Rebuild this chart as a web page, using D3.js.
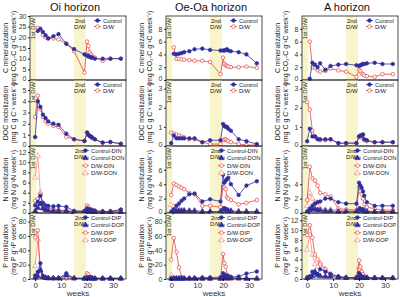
<!DOCTYPE html>
<html>
<head>
<meta charset="utf-8">
<script src="https://cdn.jsdelivr.net/npm/d3@7"></script>
<style>
  body { margin: 0; background: #fff; }
  svg { font-family: "Liberation Sans", Arial, sans-serif; }
</style>
</head>
<body>
<svg id="chart" width="400" height="297"></svg>
<script>
// sampling weeks (shared by every panel)
const weeks = [0, 1, 2, 3, 4, 5, 7, 9, 12, 15, 19, 20, 20.5, 21, 21.5, 22, 23, 26, 29, 33];
const horizons = ["Oi horizon", "Oe-Oa horizon", "A horizon"];
const bands = [[-2, 0.4], [15, 19.5]];
const xTicks = [0, 10, 20, 30];

// C mineralization
const cOiCtrl = [null, 23, 24, 22.5, 21, 19.5, 20.5, 21.5, 17, 14.5, 12, 11.5, 11, 11, 10.5, 10.5, 10, 10, 10, 10];
const cOiDW   = [null, 24.5, 23.5, 21, 20, 19.5, 19.5, 19, 17, 13.5, 3.5, 18, 16, 13, 12, 11, 10.5, 9, 10, 10];
const cOeCtrl = [null, 4.1, 4.0, 4.1, 4.2, 4.35, 4.5, 4.8, 4.9, 4.7, 4.6, 4.6, 4.6, 4.7, 4.8, 4.6, 4.5, 4.35, 4.0, 2.6];
const cOeDW   = [null, 5.1, 3.3, 3.3, 3.2, 3.2, 3.1, 3.0, 3.0, 2.8, 0.9, 3.5, 2.5, 2.3, 2.2, 2.1, 2.0, 2.0, 2.1, 1.9];
const cACtrl  = [null, 0.2, 2.7, 2.4, 2.0, 2.6, 1.6, 2.2, 2.4, 2.5, 2.3, 2.2, 2.3, 2.4, 2.5, 2.5, 2.6, 2.7, 2.5, 2.5];
const cADW    = [null, 6.0, 2.0, 1.9, 1.5, 1.3, 1.4, 1.8, 1.5, 1.3, 0.5, 1.6, 1.4, 1.0, 0.9, 0.7, 0.6, 0.5, 0.9, 0.9];

// DOC mobilization
const docOiCtrl = [0.8, 4.0, 3.5, 2.8, 2.5, 2.2, 2.0, 1.9, 1.1, 0.6, 0.45, 1.2, 1.0, 0.9, 0.85, 0.75, 0.6, 0.3, 0.35, 0.2];
const docOiDW   = [2.6, 4.5, 3.3, 2.6, 2.2, 2.0, 1.8, 1.7, 0.8, 0.6, 0.45, 1.2, 1.0, 0.9, 0.8, 0.7, 0.6, 0.3, 0.35, 0.2];
const docOeCtrl = [0.15, 0.55, 0.4, 0.4, 0.4, 0.4, 0.4, 0.4, 0.2, 0.3, 0.3, 1.15, 1.05, 1.0, 1.0, 0.9, 0.8, 0.35, 0.25, 0.1];
const docOeDW   = [0.7, 0.65, 0.6, 0.55, 0.5, 0.45, 0.35, 0.35, 0.2, 0.1, 0.1, 0.3, 0.35, 0.35, 0.3, 0.25, 0.2, 0.1, 0.05, 0.05];
const docACtrl  = [0.25, 0.9, 0.5, 0.5, 0.35, 0.35, 0.35, 0.35, 0.15, 0.15, 0.15, 0.5, 0.55, 0.55, 0.6, 0.35, 0.3, 0.2, 0.2, 0.2];
const docADW    = [2.3, 1.9, 0.8, 0.5, 0.4, 0.3, 0.3, 0.35, 0.15, 0.15, 0.15, 0.5, 0.45, 0.5, 0.6, 0.3, 0.25, 0.2, 0.2, 0.2];

// N mobilization
const nOiCDIN = [1.5, 2.2, 3.4, 2.0, 1.5, 1.4, 1.3, 1.4, 1.2, 0.4, 0.4, 0.9, 0.8, 0.6, 0.6, 0.5, 0.4, 0.3, 0.3, 0.7];
const nOiCDON = [0.4, 1.0, 1.8, 0.9, 0.6, 0.5, 0.4, 0.4, 0.4, 0.2, 0.2, 0.5, 0.4, 0.3, 0.3, 0.3, 0.2, 0.2, 0.2, 0.2];
const nOiDDIN = [2.4, 2.8, 3.8, 1.5, 1.2, 1.0, 0.8, 0.6, 0.5, 0.3, 0.3, 1.5, 1.2, 0.8, 0.7, 0.6, 0.5, 0.3, 0.3, 0.6];
const nOiDDON = [7.0, 11.3, 4.0, 1.2, 0.8, 0.6, 0.4, 0.3, 0.3, 0.2, 0.2, 1.0, 0.8, 0.6, 0.5, 0.4, 0.3, 0.2, 0.2, 0.3];
const nOeCDIN = [0.1, 0.5, 1.0, 1.3, 1.7, 2.0, 2.6, 2.7, 1.6, 1.9, 1.6, 5.3, 4.2, 4.5, 4.7, 4.9, 4.0, 2.5, 3.8, 4.4];
const nOeCDON = [0.1, 0.3, 0.3, 0.3, 0.3, 0.3, 0.3, 0.3, 0.2, 0.2, 0.2, 0.5, 0.5, 0.5, 0.4, 0.3, 0.3, 0.2, 0.2, 0.2];
const nOeDDIN = [2.5, 4.1, 3.9, 3.7, 3.5, 3.3, 2.8, 2.6, 1.0, 1.0, 0.8, 3.6, 3.5, 3.3, 2.2, 2.0, 1.8, 1.2, 1.4, 1.8];
const nOeDDON = [1.1, 0.9, 0.6, 0.5, 0.4, 0.4, 0.3, 0.3, 0.2, 0.2, 0.2, 0.6, 0.5, 0.4, 0.3, 0.3, 0.3, 0.2, 0.2, 0.2];
const nACDIN  = [0.2, 0.6, 1.0, 1.3, 1.5, 1.6, 2.0, 2.0, 1.5, 1.3, 1.3, 4.2, 3.8, 3.5, 3.0, 2.4, 1.5, 1.0, 1.0, 1.0];
const nACDON  = [0.1, 0.4, 0.5, 0.5, 0.4, 0.4, 0.3, 0.3, 0.2, 0.2, 0.2, 0.5, 0.5, 0.4, 0.4, 0.3, 0.2, 0.2, 0.2, 0.2];
const nADDIN  = [1.8, 6.4, 4.8, 4.5, 3.8, 2.8, 2.6, 2.3, 0.6, 0.5, 0.4, 3.6, 3.0, 2.6, 2.0, 1.2, 0.8, 0.6, 0.4, 0.4];
const nADDON  = [1.0, 2.8, 2.0, 1.5, 1.0, 0.7, 0.5, 0.5, 0.4, 0.3, 0.3, 0.6, 0.5, 0.4, 0.4, 0.3, 0.3, 0.2, 0.2, 0.2];

// P mobilization
const pOiCDIP = [5, 10, 22, 4, 2, 1.5, 1, 1, 8, 1, 1, 1.5, 2, 1.5, 1.5, 1, 1, 1, 1, 1];
const pOiCDOP = [2, 4, 12, 3, 1.5, 1, 1, 1, 5, 1, 0.5, 1, 1, 1, 1, 0.5, 0.5, 0.5, 0.5, 0.5];
const pOiDDIP = [58, 68, 12, 4, 2, 1.5, 1, 1, 1, 1, 1, 8, 6, 3, 2, 1.5, 1, 1, 1, 1];
const pOiDDOP = [18, 55, 10, 3, 2, 1, 1, 1, 1, 1, 1, 4, 3, 2, 1.5, 1, 1, 1, 1, 1];
const pOeCDIP = [0.5, 1, 1, 1, 1, 1, 1, 1.5, 2, 2, 2.5, 8, 6, 5, 4.5, 4, 3, 3.5, 7.5, 10.5];
const pOeCDOP = [0.5, 0.5, 0.5, 0.5, 0.5, 0.5, 0.5, 0.5, 0.5, 0.5, 0.5, 2, 1.5, 1.5, 1, 1, 1, 1, 0.5, 0.5];
const pOeDDIP = [27, 57, 38, 16, 3, 1, 0.5, 0.5, 0.5, 0.5, 0.5, 35, 22, 17, 6, 3, 2, 1, 1, 1];
const pOeDDOP = [5, 1.5, 1, 1, 0.5, 0.5, 0.5, 0.5, 0.5, 0.5, 0.5, 1, 1, 0.5, 0.5, 0.5, 0.5, 0.5, 0.5, 0.5];
const pACDIP  = [0.3, 0.5, 1.5, 1.2, 1.0, 2.0, 1.5, 1.0, 0.5, 0.3, 0.3, 1.2, 0.8, 0.5, 0.3, 0.3, 0.3, 0.2, 0.2, 0.2];
const pACDOP  = [0.2, 0.4, 0.6, 1.5, 0.8, 0.6, 0.5, 0.5, 0.3, 0.2, 0.2, 0.5, 0.4, 0.3, 0.2, 0.2, 0.2, 0.2, 0.2, 0.2];
const pADDIP  = [9, 11, 8.5, 5, 4, 3, 2, 1, 0.5, 0.3, 0.3, 3.8, 2.5, 1.5, 1, 0.5, 0.3, 0.3, 0.2, 0.2];
const pADDOP  = [6, 9, 5, 3, 2.5, 3.3, 2, 1, 0.4, 0.3, 0.3, 2.5, 2, 1.2, 0.8, 0.5, 0.3, 0.2, 0.2, 0.2];

const navy = "#2e2e9e";
const red = "#e2453f";
const pink = "#f08a84";
const bandColor = "#f7f3cb";

// series styles per row type (drawing order: D/W below, Control on top)
const styles2 = [
  { label: "D/W", color: red, shape: "circle", fill: false },
  { label: "Control", color: navy, shape: "circle", fill: true }
];
const stylesN = [
  { label: "D/W-DON", color: pink, shape: "triangle", fill: false },
  { label: "D/W-DIN", color: red, shape: "circle", fill: false },
  { label: "Control-DON", color: navy, shape: "triangle", fill: true },
  { label: "Control-DIN", color: navy, shape: "circle", fill: true }
];
const stylesP = stylesN.map(s => ({ ...s, label: s.label.replace("DON", "DOP").replace("DIN", "DIP") }));

const rows = [
  { label: ["C mineralization", "(mg CO₂-C g⁻¹C week⁻¹)"], styles: styles2,
    panels: [
      { domain: [0, 30], ticks: [0, 5, 10, 15, 20, 25, 30], series: [cOiDW, cOiCtrl] },
      { domain: [0, 10], ticks: [0, 2, 4, 6, 8], series: [cOeDW, cOeCtrl] },
      { domain: [0, 10], ticks: [0, 2, 4, 6, 8], series: [cADW, cACtrl] }
    ] },
  { label: ["DOC mobilization", "(mg C g C⁻¹ week⁻¹)"], styles: styles2,
    panels: [
      { domain: [0, 5.9], ticks: [0, 1, 2, 3, 4, 5], series: [docOiDW, docOiCtrl] },
      { domain: [0, 3.45], ticks: [0, 1, 2, 3], series: [docOeDW, docOeCtrl] },
      { domain: [0, 3.45], ticks: [0, 1, 2, 3], series: [docADW, docACtrl] }
    ] },
  { label: ["N mobilization", "(mg N g⁻¹N week⁻¹)"], styles: stylesN,
    panels: [
      { domain: [0, 13.2], ticks: [0, 2, 4, 6, 8, 10, 12], series: [nOiDDON, nOiDDIN, nOiCDON, nOiCDIN] },
      { domain: [0, 9.3], ticks: [0, 2, 4, 6], series: [nOeDDON, nOeDDIN, nOeCDON, nOeCDIN] },
      { domain: [0, 9.3], ticks: [0, 2, 4], series: [nADDON, nADDIN, nACDON, nACDIN] }
    ] },
  { label: ["P mobilization", "(mg P g⁻¹P week⁻¹)"], styles: stylesP,
    panels: [
      { domain: [0, 92], ticks: [0, 20, 40, 60, 80], series: [pOiDDOP, pOiDDIP, pOiCDOP, pOiCDIP] },
      { domain: [0, 92], ticks: [0, 20, 40, 60, 80], series: [pOeDDOP, pOeDDIP, pOeCDOP, pOeCDIP] },
      { domain: [0, 13.5], ticks: [0, 2, 4, 6, 8, 10, 12], series: [pADDOP, pADDIP, pACDOP, pACDIP] }
    ] }
];

const colLeft = [30, 166, 302];
const plotW = 96;
const rowTop = [16, 80, 146, 213];
const rowBottom = [80, 146, 213, 279];

const svg = d3.select("#chart");

horizons.forEach((h, c) => {
  svg.append("text")
    .attr("x", colLeft[c] + plotW / 2 - 3)
    .attr("y", 11)
    .attr("text-anchor", "middle")
    .attr("font-size", 11)
    .attr("fill", "#111")
    .text(h);
});

rows.forEach((row, r) => {
  const isN = row.styles.length === 4;
  row.panels.forEach((p, c) => {
    const x0 = colLeft[c];
    const x = d3.scaleLinear().domain([-2, 35]).range([x0, x0 + plotW]);
    const y = d3.scaleLinear().domain(p.domain).range([rowBottom[r], rowTop[r]]);
    const g = svg.append("g");

    // drying/wetting bands
    bands.forEach(b => {
      g.append("rect")
        .attr("x", x(b[0])).attr("y", rowTop[r])
        .attr("width", x(b[1]) - x(b[0]))
        .attr("height", rowBottom[r] - rowTop[r])
        .attr("fill", bandColor);
    });

    g.append("text")
      .attr("transform", `translate(${x((bands[0][0] + bands[0][1]) / 2) + 2},${rowTop[r] + 2}) rotate(-90)`)
      .attr("text-anchor", "end")
      .attr("font-size", 6)
      .attr("fill", "#222")
      .text("1st D/W");
    const bc = x((bands[1][0] + bands[1][1]) / 2);
    g.append("text").attr("x", bc).attr("y", rowTop[r] + 7)
      .attr("text-anchor", "middle").attr("font-size", 6).attr("fill", "#222").text("2nd");
    g.append("text").attr("x", bc).attr("y", rowTop[r] + 13)
      .attr("text-anchor", "middle").attr("font-size", 6).attr("fill", "#222").text("D/W");

    // series
    p.series.forEach((vals, i) => {
      const st = row.styles[i];
      const pts = weeks.map((w, k) => ({ w, v: vals[k] })).filter(d => d.v != null);
      const line = d3.line().x(d => x(d.w)).y(d => y(d.v));
      g.append("path")
        .attr("d", line(pts))
        .attr("fill", "none")
        .attr("stroke", st.color)
        .attr("stroke-width", 0.8);
      const sym = d3.symbol()
        .type(st.shape === "triangle" ? d3.symbolTriangle : d3.symbolCircle)
        .size(st.shape === "triangle" ? 12 : 10);
      g.selectAll(null)
        .data(pts)
        .join("path")
        .attr("d", sym)
        .attr("transform", d => `translate(${x(d.w)},${y(d.v)})`)
        .attr("fill", st.fill ? st.color : "#fff")
        .attr("stroke", st.color)
        .attr("stroke-width", 0.7);
    });

    // frame
    g.append("rect")
      .attr("x", x0).attr("y", rowTop[r])
      .attr("width", plotW).attr("height", rowBottom[r] - rowTop[r])
      .attr("fill", "none").attr("stroke", "#222").attr("stroke-width", 0.8);

    // y axis
    const yAxis = g.append("g")
      .attr("transform", `translate(${x0},0)`)
      .call(d3.axisLeft(y).tickValues(p.ticks).tickSize(2).tickPadding(1.5).tickFormat(d3.format("d")));
    yAxis.select(".domain").remove();
    yAxis.selectAll("text").attr("font-size", 7).attr("fill", "#333")
      .attr("font-family", "Liberation Sans, Arial, sans-serif");
    // keep the 0 of an upper panel clear of the top label below it
    if (r < rows.length - 1) {
      yAxis.selectAll(".tick").filter(d => d === 0).select("text").attr("dy", "0.05em");
    }
    yAxis.selectAll("line").attr("stroke", "#222");

    // x axis on bottom row
    if (r === rows.length - 1) {
      const xAxis = g.append("g")
        .attr("transform", `translate(0,${rowBottom[r]})`)
        .call(d3.axisBottom(x).tickValues(xTicks).tickSize(2).tickPadding(1.5));
      xAxis.select(".domain").remove();
      xAxis.selectAll("text").attr("font-size", 8).attr("fill", "#333")
        .attr("font-family", "Liberation Sans, Arial, sans-serif");
      g.append("text")
        .attr("x", x0 + plotW / 2).attr("y", 296)
        .attr("text-anchor", "middle").attr("font-size", 8).attr("fill", "#333")
        .text("weeks");
    }

    // y label
    row.label.forEach((t, k) => {
      g.append("text")
        .attr("transform", `translate(${x0 - 22 + k * 8},${(rowTop[r] + rowBottom[r]) / 2}) rotate(-90)`)
        .attr("text-anchor", "middle")
        .attr("font-size", 7)
        .attr("fill", "#222")
        .text(t);
    });

    // legend
    const legendItems = row.styles.slice().reverse();
    const tx = x0 + plotW - (isN ? 35 : 23);
    const dy = isN ? 7.6 : 6;
    legendItems.forEach((st, k) => {
      const ly = rowTop[r] + 4.5 + k * dy;
      g.append("line")
        .attr("x1", tx - 9).attr("x2", tx - 2)
        .attr("y1", ly).attr("y2", ly)
        .attr("stroke", st.color).attr("stroke-width", 0.8);
      g.append("path")
        .attr("d", d3.symbol().type(st.shape === "triangle" ? d3.symbolTriangle : d3.symbolCircle).size(st.shape === "triangle" ? 12 : 10))
        .attr("transform", `translate(${tx - 5.5},${ly})`)
        .attr("fill", st.fill ? st.color : "#fff")
        .attr("stroke", st.color).attr("stroke-width", 0.7);
      g.append("text")
        .attr("x", tx).attr("y", ly + 2.1)
        .attr("font-size", 5.8).attr("fill", "#222")
        .text(st.label);
    });
  });
});
</script>
</body>
</html>
